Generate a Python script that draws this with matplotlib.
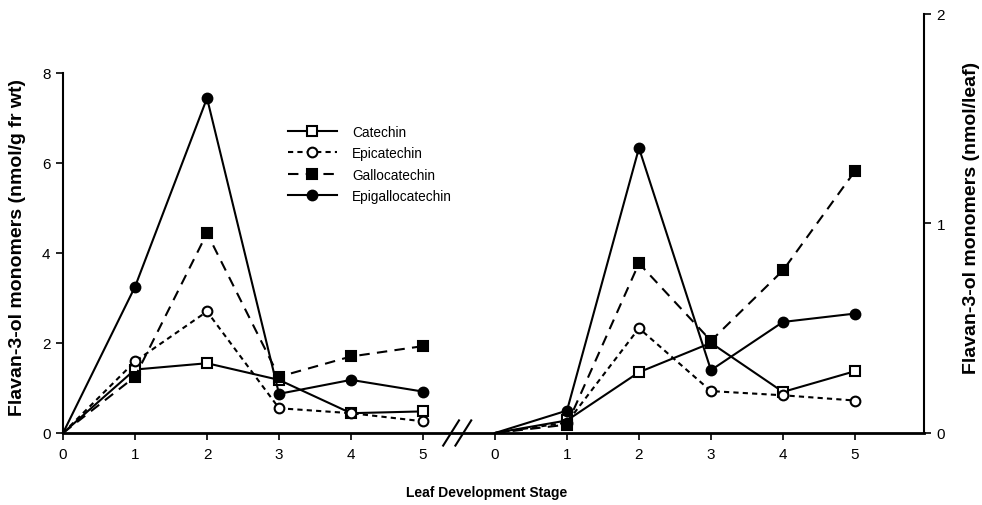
import matplotlib
matplotlib.use('Agg')
import matplotlib.pyplot as plt

plt.rcParams['font.family'] = ['Liberation Sans', 'DejaVu Sans']

stages = [0, 1, 2, 3, 4, 5]

# left panel: nmol/g fr wt
cat_fw = [0, 1.41, 1.55, 1.18, 0.44, 0.48]
epi_fw = [0, 1.59, 2.70, 0.55, 0.44, 0.26]
gal_fw = [0, 1.25, 4.44, 1.25, 1.70, 1.93]
egc_fw = [0, 3.25, 7.44, 0.87, 1.18, 0.92]

# right panel: nmol/leaf
cat_leaf = [0, 0.06, 0.29, 0.43, 0.196, 0.295]
epi_leaf = [0, 0.05, 0.50, 0.20, 0.18, 0.155]
gal_leaf = [0, 0.04, 0.81, 0.44, 0.776, 1.25]
egc_leaf = [0, 0.107, 1.36, 0.30, 0.53, 0.57]

names = ['Catechin', 'Epicatechin', 'Gallocatechin', 'Epigallocatechin']
offset = 6  # where the second panel starts on the shared x axis

styles = [
    dict(ls='-', marker='s', mfc='white'),
    dict(ls=(0, (2.5, 2)), marker='o', mfc='white'),
    dict(ls=(0, (5, 3.5)), marker='s', mfc='black'),
    dict(ls='-', marker='o', mfc='black'),
]

fig = plt.figure(figsize=(9.82, 5.06), dpi=100)
ax = fig.add_axes([0.0642, 0.1423, 0.8768, 0.8281])
ax2 = ax.twinx()

lines = []
for vals, st, nm in zip([cat_fw, epi_fw, gal_fw, egc_fw], styles, names):
    l, = ax.plot(stages, vals, color='black', lw=1.5, ms=7, mec='black',
                 mew=1.5, label=nm, clip_on=False, markevery=[1, 2, 3, 4, 5],
                 **st)
    lines.append(l)

right_x = [s + offset for s in stages]
for vals, st in zip([cat_leaf, epi_leaf, gal_leaf, egc_leaf], styles):
    ax2.plot(right_x, vals, color='black', lw=1.5, ms=7, mec='black',
             mew=1.5, clip_on=False, markevery=[1, 2, 3, 4, 5], **st)

ax.set_xlim(0, 11.96)
ax.set_ylim(0, 9.31)
ax2.set_ylim(0, 2.0)

ax.set_xticks(stages + right_x)
ax.set_xticklabels([str(s) for s in stages] * 2)
ax.set_yticks([0, 2, 4, 6, 8])
ax2.set_yticks([0, 1, 2])

for a in (ax, ax2):
    a.spines['top'].set_visible(False)
    a.tick_params(direction='out', length=5, width=1.2, labelsize=11, pad=4)
ax.spines['right'].set_visible(False)
ax.spines['left'].set_bounds(0, 8)
ax.spines['left'].set_linewidth(1.5)
ax.spines['bottom'].set_linewidth(2)
ax2.spines['left'].set_visible(False)
ax2.spines['bottom'].set_visible(False)
ax2.spines['right'].set_linewidth(1.5)
ax.tick_params(axis='x', pad=5)

# axis break marks
for dx in (0, 0.17):
    ax.plot([5.28 + dx, 5.5 + dx], [-0.28, 0.28], color='black', lw=1.5,
            clip_on=False)

fig.text(487 / 982, 1 - 493 / 506, 'Leaf Development Stage', fontsize=10,
         fontweight='bold', ha='center', va='center')
fig.text(18 / 982, 1 - 248 / 506, 'Flavan-3-ol monomers (nmol/g fr wt)',
         fontsize=14, fontweight='bold', rotation=90, ha='center', va='center')
fig.text(972 / 982, 1 - 218 / 506, 'Flavan-3-ol monomers (nmol/leaf)',
         fontsize=14, fontweight='bold', rotation=90, ha='center', va='center')

ax.legend(handles=lines, loc='upper left', bbox_to_anchor=(0.247, 0.765),
          frameon=False, fontsize=9.8, handlelength=3.6, labelspacing=0.55,
          handletextpad=1.1)

plt.savefig('out.png', dpi=100)
